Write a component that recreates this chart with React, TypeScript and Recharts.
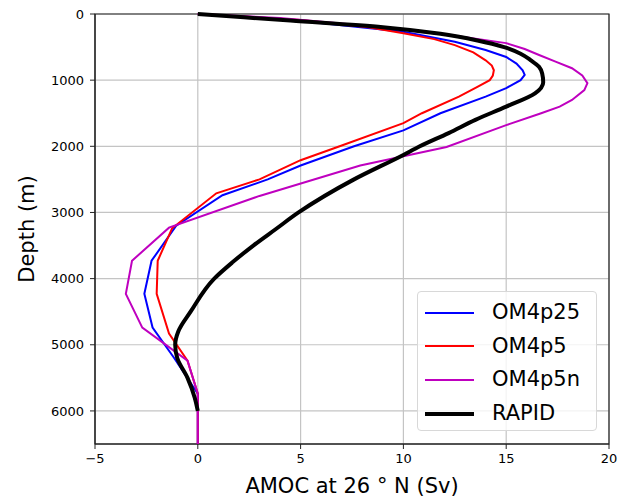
import React from 'react';
import {
  ScatterChart,
  Scatter,
  XAxis,
  YAxis,
  CartesianGrid,
  ReferenceArea,
  Label,
} from 'recharts';

const xTicks = [-5, 0, 5, 10, 15, 20];
const depthTicks = [0, 1000, 2000, 3000, 4000, 5000, 6000];
const depthMax = 6500;

const om4p25Depth = [0, 100, 270, 420, 545, 650, 750, 850, 920, 1000, 1120, 1250, 1500, 1760, 2000, 2290, 2500, 2740, 3200, 3730, 4230, 4740, 5200, 5740, 6500];
const om4p25Amoc = [0, 4.8, 10, 12.5, 14, 15, 15.5, 15.8, 15.9, 15.7, 15, 14.0, 11.8, 10, 7.6, 5.0, 3.4, 1.2, -1.05, -2.25, -2.6, -2.2, -1.15, 0, 0];

const om4p5Depth = [0, 90, 200, 290, 380, 470, 580, 700, 780, 850, 930, 1000, 1100, 1250, 1500, 1650, 2000, 2210, 2500, 2710, 3240, 3730, 4230, 4830, 5240, 5740, 6500];
const om4p5Amoc = [0, 5, 8.3, 10, 11.5, 12.5, 13.4, 14.0, 14.3, 14.4, 14.35, 14.2, 13.6, 12.7, 10.9, 10, 6.9, 5.0, 3.0, 0.9, -1.25, -1.95, -2.0, -1.4, -0.5, 0, 0];

const om4p5nDepth = [0, 60, 200, 330, 440, 530, 620, 720, 820, 930, 1045, 1150, 1300, 1400, 1500, 1680, 2010, 2290, 2750, 3230, 3730, 4230, 4740, 5240, 5740, 6500];
const om4p5nAmoc = [0, 4, 9, 12.5, 15, 15.9, 16.6, 17.4, 18.2, 18.7, 18.95, 18.8, 18.2, 17.6, 16.7, 15, 12.1, 7.9, 3.0, -1.4, -3.2, -3.5, -2.7, -0.5, 0, 0];

const rapidDepth = [0, 100, 200, 300, 400, 500, 600, 700, 800, 900, 1030, 1200, 1400, 1600, 1800, 2000, 2130, 2500, 3000, 3250, 3500, 3750, 4000, 4500, 4800, 5000, 5200, 5500, 5800, 6000];
const rapidAmoc = [0, 4.5, 9, 11.8, 13.6, 14.9, 15.7, 16.2, 16.6, 16.75, 16.8, 16.4, 15.0, 13.5, 12.2, 10.8, 10.0, 7.6, 4.9, 3.8, 2.7, 1.7, 0.8, -0.35, -0.95, -1.1, -1.0, -0.5, -0.15, 0];

const zip = (depth: number[], amoc: number[]) =>
  depth.map((d, i) => ({ depth: d, amoc: amoc[i] }));

const series = [
  { name: 'OM4p25', color: '#0000ff', width: 2, curve: 'linear', data: zip(om4p25Depth, om4p25Amoc) },
  { name: 'OM4p5', color: '#ff0000', width: 2, curve: 'linear', data: zip(om4p5Depth, om4p5Amoc) },
  { name: 'OM4p5n', color: '#bf00bf', width: 2, curve: 'linear', data: zip(om4p5nDepth, om4p5nAmoc) },
  { name: 'RAPID', color: '#000000', width: 4, curve: 'monotoneY', data: zip(rapidDepth, rapidAmoc) },
];

const FONT = '"DejaVu Sans", sans-serif';
const fmt = (v: number) => (v < 0 ? `\u2212${Math.abs(v)}` : `${v}`);

function DepthLabel({ viewBox }: any) {
  const cy = viewBox.y + viewBox.height / 2;
  return (
    <text x={27} y={cy} transform={`rotate(-90 27 ${cy})`} textAnchor="middle"
      dominantBaseline="central" fontSize={21} fontFamily={FONT} fill="#000">
      Depth (m)
    </text>
  );
}

export default function App() {
  return (
    <div style={{ position: 'absolute', left: 0, top: 0, width: 618, height: 504, background: '#fff' }}>
      <ScatterChart width={618} height={504} margin={{ top: 14, right: 9, left: 35, bottom: 30 }}>
        <CartesianGrid stroke="#c4c4c4" strokeWidth={1.2} />
        <XAxis type="number" dataKey="amoc" domain={[-5, 20]} ticks={xTicks} tickFormatter={fmt}
          height={30} tickSize={5} tickMargin={5} stroke="#222"
          tick={{ fill: '#000', fontSize: 13, fontFamily: FONT }}>
          <Label value="AMOC at 26 ° N (Sv)" position="bottom" offset={4}
            style={{ fontSize: 21, fontFamily: FONT, fill: '#000' }} />
        </XAxis>
        <YAxis type="number" dataKey="depth" domain={[0, depthMax]} ticks={depthTicks} reversed
          width={60} tickSize={5} tickMargin={6} stroke="#222"
          tick={{ fill: '#000', fontSize: 13, fontFamily: FONT }}>
          <Label content={DepthLabel} />
        </YAxis>
        <ReferenceArea x1={xTicks[0]} x2={xTicks[xTicks.length - 1]} y1={0} y2={depthMax}
          fill="none" stroke="#222" strokeWidth={1.2} />
        {series.map((s) => (
          <Scatter key={s.name} name={s.name} data={s.data} fill={s.color}
            line={{ stroke: s.color, strokeWidth: s.width }} lineType="joint"
            lineJointType={s.curve as any} shape={() => <g />} isAnimationActive={false} />
        ))}
      </ScatterChart>
      <div style={{
        position: 'absolute', left: 417, top: 291, width: 180, height: 140,
        border: '1px solid #d8d8d8', borderRadius: 4, background: 'rgba(255,255,255,0.8)',
        boxSizing: 'border-box', fontFamily: FONT, fontSize: 21,
      }}>
        {series.map((s, i) => (
          <div key={s.name} style={{ position: 'absolute', left: 0, top: 4 + i * 33.7, height: 33, display: 'flex', alignItems: 'center' }}>
            <div style={{ marginLeft: 7, width: 49, height: s.width, background: s.color }} />
            <span style={{ marginLeft: 18, lineHeight: '33px' }}>{s.name}</span>
          </div>
        ))}
      </div>
    </div>
  );
}
